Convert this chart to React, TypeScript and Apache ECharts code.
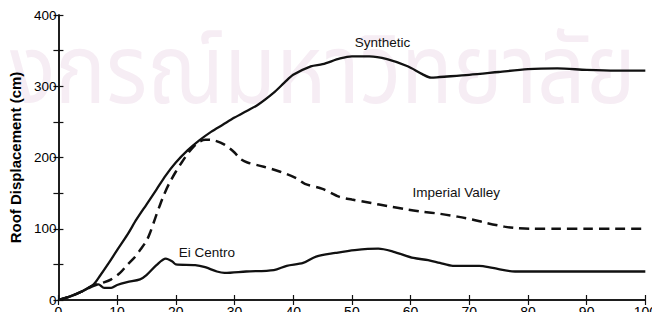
import React, { useEffect, useRef } from "react";
import * as echarts from "echarts";

const synTime = [0, 2, 4, 6, 7, 8.5, 10, 11.7, 13.3, 15, 16.7, 18.3, 20, 22, 24, 26, 28, 30, 32, 34, 36.7, 38.5, 40, 43, 45, 48, 50, 53, 56, 59.5, 62, 63.5, 65, 70, 75, 80, 85, 90, 95, 100];
const synValue = [0, 5, 12, 22, 33, 51, 70, 91, 113, 134, 155, 175, 193, 210, 224, 236, 246, 256, 265, 274, 291, 305, 316, 328, 331, 339, 342, 342, 338, 328, 317, 312, 313, 316, 320, 324, 325, 323, 322, 322];

const impTime = [0, 2, 4, 6, 7.5, 9, 10.5, 11.7, 13, 13.9, 15, 15.6, 16.5, 17.2, 18, 18.9, 20, 21, 22, 23, 24, 25, 26.5, 28.3, 30, 31, 32.2, 35, 37.8, 40.5, 42, 45, 47.8, 50, 53.3, 56, 59.5, 62, 65, 68, 70.5, 73, 76, 78, 80.5, 85, 90, 95, 100];
const impValue = [0, 5, 12, 20, 24, 29, 38, 49, 60, 70, 83, 94, 115, 131, 148, 164, 180, 193, 205, 215, 222, 225, 224, 218, 207, 198, 193, 187, 180, 171, 163, 156, 145, 141, 136, 132, 127, 124, 121, 117, 113, 108, 103, 101, 100, 100, 100, 100, 100];

const elcTime = [0, 2, 4, 6, 6.8, 7.8, 9, 10, 11.7, 13.9, 15, 16.7, 18.3, 19.4, 20, 23.3, 25, 27, 28.3, 32, 36.7, 38.9, 41.7, 43.9, 47.2, 50.5, 54.5, 57, 60.5, 63, 65, 67.2, 71.7, 74, 77.8, 85, 90, 100];
const elcValue = [0, 5, 12, 21, 22, 17, 17, 21, 25, 29, 35, 49, 58, 54, 50, 49, 46, 40, 38, 40, 42, 48, 52, 61, 66, 70, 72, 68, 59, 56, 52, 48, 48, 45, 40, 40, 40, 40];

const xTicks = [0, 10, 20, 30, 40, 50, 60, 70, 80, 90, 100];
const yLabels = [0, 100, 200, 300, 400];

const seriesNames = ["Synthetic", "Imperial Valley", "Ei Centro"];
const labelCoords: [number, number][] = [[55.2, 362], [67.8, 151], [25.3, 66]];

const watermarkText = "งกรณ์มหาวิทยาลัย";

const FONT = "'Liberation Sans', Arial, sans-serif";
const WM_FONT = "'Noto Sans Thai', 'Noto Sans', 'DejaVu Sans', sans-serif";
const INK = "#111";

function pairs(t: number[], v: number[]) {
  return t.map((x, i) => [x, v[i]]);
}

export default function App() {
  const ref = useRef<HTMLDivElement>(null);
  useEffect(() => {
    if (!ref.current) return;
    const chart = echarts.init(ref.current, undefined, { renderer: "svg" });
    const axisCommon = {
      axisLine: { show: true, lineStyle: { color: INK, width: 1.5 } },
      axisTick: { show: true, inside: true, length: 5, lineStyle: { color: INK, width: 1.2 } },
      splitLine: { show: false },
    };
    const mkLabel = (i: number) => ({
      symbol: "circle",
      symbolSize: 0,
      data: [{ coord: labelCoords[i], value: seriesNames[i] }],
      label: {
        show: true,
        position: "inside",
        formatter: seriesNames[i],
        color: INK,
        fontFamily: FONT,
        fontSize: 13.5,
      },
      itemStyle: { color: "transparent" },
    });
    chart.setOption({
      animation: false,
      backgroundColor: "#fff",
      graphic: [
        {
          type: "text",
          x: 10,
          y: 74,
          scaleX: 0.88,
          z: -10,
          silent: true,
          style: {
            text: watermarkText,
            fontSize: 96,
            fontFamily: WM_FONT,
            verticalAlign: "middle",
            align: "left",
            fill: "#f6edf4",
          },
        },
      ],
      grid: { left: 51, right: 8, top: 15, bottom: 20 },
      xAxis: [
        {
          type: "value",
          min: 0,
          max: 100,
          interval: 10,
          position: "bottom",
          ...axisCommon,
          axisLabel: {
            color: "#000",
            fontFamily: FONT,
            fontSize: 14,
            margin: 5,
            formatter: (v: number) => (xTicks.includes(v) ? String(v) : ""),
          },
        },
        {
          type: "value",
          min: 0,
          max: 100,
          interval: 10,
          position: "top",
          ...axisCommon,
          axisLabel: { show: false },
        },
      ],
      yAxis: [
        {
          type: "value",
          min: 0,
          max: 400,
          interval: 50,
          position: "left",
          ...axisCommon,
          name: "Roof Displacement (cm)",
          nameLocation: "middle",
          nameGap: 27,
          nameTextStyle: { color: "#000", fontFamily: FONT, fontSize: 15, fontWeight: "bold" },
          axisLabel: {
            color: "#000",
            fontFamily: FONT,
            fontSize: 13.5,
            margin: 2,
            formatter: (v: number) => (yLabels.includes(v) ? String(v) : ""),
          },
        },
        {
          type: "value",
          min: 0,
          max: 400,
          interval: 50,
          position: "right",
          ...axisCommon,
          axisLabel: { show: false },
        },
      ],
      series: [
        {
          name: seriesNames[0],
          type: "line",
          data: pairs(synTime, synValue),
          smooth: 0.3,
          showSymbol: false,
          lineStyle: { color: INK, width: 2.3 },
          markPoint: mkLabel(0),
          z: 3,
        },
        {
          name: seriesNames[1],
          type: "line",
          data: pairs(impTime, impValue),
          smooth: 0.3,
          showSymbol: false,
          lineStyle: { color: INK, width: 2.5, type: [10, 6] },
          markPoint: mkLabel(1),
          z: 3,
        },
        {
          name: seriesNames[2],
          type: "line",
          data: pairs(elcTime, elcValue),
          smooth: 0.3,
          showSymbol: false,
          lineStyle: { color: INK, width: 2.3 },
          markPoint: mkLabel(2),
          z: 3,
        },
      ],
    });
    return () => chart.dispose();
  }, []);
  return <div ref={ref} style={{ width: 660, height: 320, margin: -8 }} />;
}
